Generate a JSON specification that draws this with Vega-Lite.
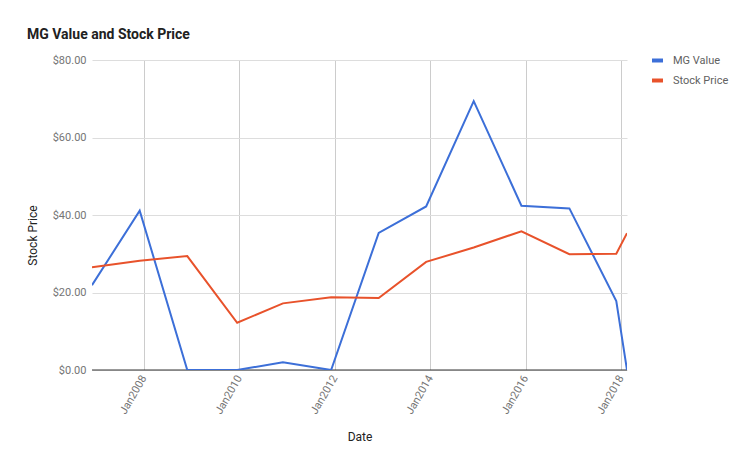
{
  "$schema": "https://vega.github.io/schema/vega-lite/v6.json",
  "autosize": {"type": "none"},
  "width": 535,
  "height": 310,
  "padding": {"left": 92, "top": 60, "right": 126, "bottom": 105},
  "background": "white",
  "title": {
    "text": "MG Value and Stock Price",
    "anchor": "start",
    "frame": "group",
    "dx": -65,
    "dy": 23,
    "offset": 23,
    "baseline": "alphabetic",
    "font": "Roboto",
    "fontSize": 14,
    "fontWeight": "bold",
    "color": "#212121"
  },
  "config": {
    "view": {"stroke": null},
    "font": "Roboto"
  },
  "data": {
    "values": [
      {"date": "2006-12-01", "series": "MG Value", "value": 21.9},
      {"date": "2007-12-01", "series": "MG Value", "value": 41.1},
      {"date": "2008-11-29", "series": "MG Value", "value": 0},
      {"date": "2009-12-16", "series": "MG Value", "value": 0},
      {"date": "2010-12-01", "series": "MG Value", "value": 2.0},
      {"date": "2011-12-05", "series": "MG Value", "value": 0},
      {"date": "2012-12-03", "series": "MG Value", "value": 35.4},
      {"date": "2013-12-01", "series": "MG Value", "value": 42.2},
      {"date": "2014-11-30", "series": "MG Value", "value": 69.4},
      {"date": "2015-11-30", "series": "MG Value", "value": 42.4},
      {"date": "2016-12-01", "series": "MG Value", "value": 41.7},
      {"date": "2017-11-25", "series": "MG Value", "value": 17.8},
      {"date": "2018-02-15", "series": "MG Value", "value": 0},
      {"date": "2006-12-01", "series": "Stock Price", "value": 26.5},
      {"date": "2007-12-01", "series": "Stock Price", "value": 28.2},
      {"date": "2008-11-29", "series": "Stock Price", "value": 29.4},
      {"date": "2009-12-16", "series": "Stock Price", "value": 12.2},
      {"date": "2010-12-01", "series": "Stock Price", "value": 17.2},
      {"date": "2011-12-05", "series": "Stock Price", "value": 18.8},
      {"date": "2012-12-03", "series": "Stock Price", "value": 18.6},
      {"date": "2013-12-01", "series": "Stock Price", "value": 27.9},
      {"date": "2014-11-30", "series": "Stock Price", "value": 31.6},
      {"date": "2015-11-30", "series": "Stock Price", "value": 35.8},
      {"date": "2016-12-01", "series": "Stock Price", "value": 29.9},
      {"date": "2017-11-25", "series": "Stock Price", "value": 30.0},
      {"date": "2018-02-15", "series": "Stock Price", "value": 35.3}
    ]
  },
  "layer": [
    {
      "mark": {"type": "rule", "color": "#333333", "strokeWidth": 1},
      "data": {"values": [{"z": 0}]},
      "encoding": {"y": {"field": "z", "type": "quantitative", "scale": {"domain": [0, 80]}}}
    },
    {
      "mark": {"type": "line", "strokeWidth": 2, "clip": true},
      "encoding": {
        "x": {
          "field": "date",
          "type": "temporal",
          "scale": {"domain": ["2006-12-01", "2018-02-15"], "nice": false},
          "axis": {
            "title": "Date",
            "titleFont": "Roboto",
            "titleFontSize": 12,
            "titleFontWeight": "normal",
            "titleColor": "#222222",
            "titleY": 66,
            "titleBaseline": "middle",
            "values": [
              {"year": 2008, "month": 1, "date": 1},
              {"year": 2010, "month": 1, "date": 1},
              {"year": 2012, "month": 1, "date": 1},
              {"year": 2014, "month": 1, "date": 1},
              {"year": 2016, "month": 1, "date": 1},
              {"year": 2018, "month": 1, "date": 1}
            ],
            "format": "%b%Y",
            "labelAngle": -60,
            "labelAlign": "right",
            "labelBaseline": "middle",
            "labelPadding": 6,
            "labelFontSize": 11,
            "labelColor": "#757575",
            "labelFont": "Roboto",
            "ticks": false,
            "domain": false,
            "grid": true,
            "gridColor": "#cccccc",
            "gridWidth": 1
          }
        },
        "y": {
          "field": "value",
          "type": "quantitative",
          "scale": {"domain": [0, 80], "nice": false},
          "axis": {
            "title": "Stock Price",
            "titleFont": "Roboto",
            "titleFontSize": 12,
            "titleFontWeight": "normal",
            "titleColor": "#222222",
            "titleX": -60,
            "titleY": 175,
            "titleAngle": -90,
            "titleAlign": "center",
            "titleBaseline": "middle",
            "values": [0, 20, 40, 60, 80],
            "format": "$.2f",
            "labelFontSize": 11,
            "labelColor": "#757575",
            "labelFont": "Roboto",
            "labelPadding": 6,
            "ticks": false,
            "domain": false,
            "grid": true,
            "gridColor": "#dddddd",
            "gridWidth": 1
          }
        },
        "color": {
          "field": "series",
          "type": "nominal",
          "scale": {"domain": ["MG Value", "Stock Price"], "range": ["#3c6fd8", "#e8522b"]},
          "legend": {
            "title": null,
            "orient": "none",
            "legendX": 558,
            "legendY": -7,
            "symbolType": "stroke",
            "symbolStrokeWidth": 4,
            "symbolSize": 120,
            "labelFont": "Roboto",
            "labelFontSize": 11,
            "labelColor": "#616161",
            "labelOffset": 8,
            "rowPadding": 3
          }
        }
      }
    }
  ]
}
